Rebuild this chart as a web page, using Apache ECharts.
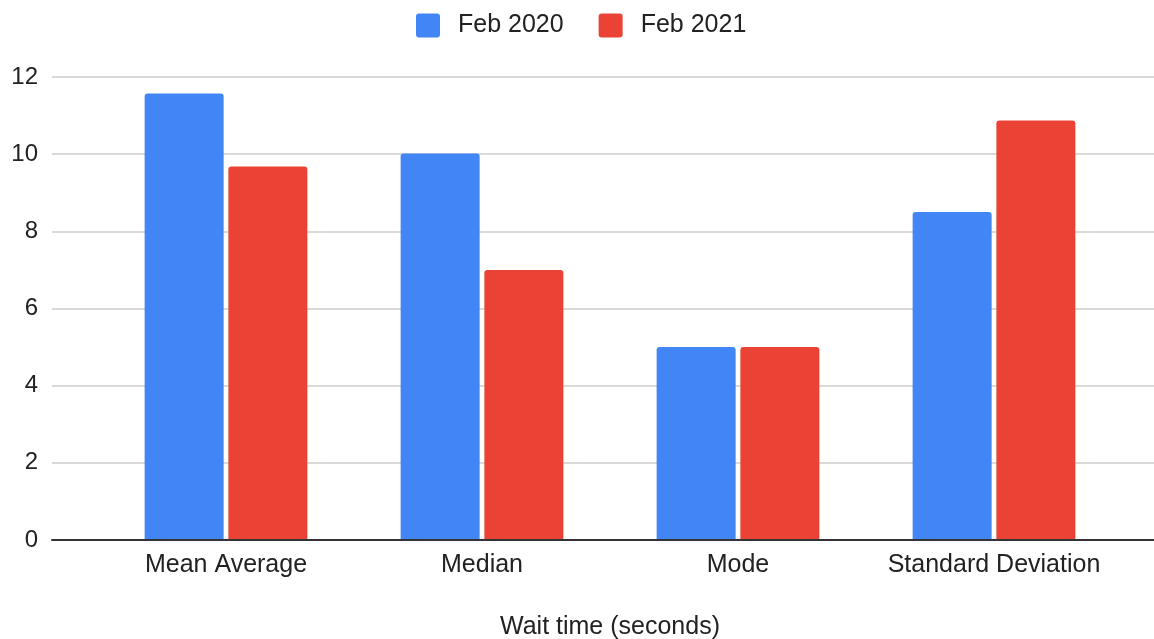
<!DOCTYPE html>
<html>
<head>
<meta charset="utf-8">
<title>Wait time</title>
<script src="https://cdn.jsdelivr.net/npm/echarts@6/dist/echarts.min.js"></script>
<style>
  html, body { margin: 0; padding: 0; background: #fff; }
  #chart { width: 1154px; height: 639px; }
</style>
</head>
<body>
<div id="chart"></div>
<script>
// data
var categories = ['Mean Average', 'Median', 'Mode', 'Standard Deviation'];
var feb2020 = [11.57, 10.02, 5.0, 8.5];
var feb2021 = [9.68, 7.0, 5.0, 10.87];
var seriesNames = ['Feb 2020', 'Feb 2021'];
var yTicks = { min: 0, max: 12, interval: 2 };

var textColor = '#222';
var font = 'Liberation Sans, Arial, sans-serif';

var chart = echarts.init(document.getElementById('chart'));

var option = {
  backgroundColor: '#fff',
  color: ['#4285F4', '#EA4335'],
  legend: {
    data: seriesNames,
    left: 416,
    top: 13,
    padding: 0,
    itemWidth: 24,
    itemHeight: 24,
    itemGap: 35,
    icon: 'path://M3,0 L21,0 Q24,0 24,3 L24,21 Q24,24 21,24 L3,24 Q0,24 0,21 L0,3 Q0,0 3,0 Z',
    textStyle: { fontSize: 25, color: textColor, fontFamily: font, padding: [0, 0, 0, 13] }
  },
  // grid 0: full width gridlines, y labels and base line
  // grid 1: where the bars sit
  grid: [
    { left: 52, right: 0, top: 77, bottom: 99, outerBoundsMode: 'none' },
    { left: 98, right: 32, top: 77, bottom: 99, outerBoundsMode: 'none' }
  ],
  xAxis: [
    {
      gridIndex: 0,
      type: 'category',
      data: [''],
      z: 10,
      axisLine: { show: true, lineStyle: { color: '#333', width: 2 } },
      axisTick: { show: false },
      axisLabel: { show: false },
      splitLine: { show: false }
    },
    {
      gridIndex: 1,
      type: 'category',
      data: categories,
      axisLine: { show: false },
      axisTick: { show: false },
      axisLabel: { interval: 0, fontSize: 25, color: textColor, fontFamily: font, margin: 13 },
      name: 'Wait time (seconds)',
      nameLocation: 'middle',
      nameGap: 75,
      nameTextStyle: { fontSize: 25, color: textColor, fontFamily: font }
    }
  ],
  yAxis: [
    {
      gridIndex: 0,
      type: 'value',
      min: yTicks.min,
      max: yTicks.max,
      interval: yTicks.interval,
      axisLine: { show: false },
      axisTick: { show: false },
      axisLabel: { fontSize: 24, color: textColor, fontFamily: font, margin: 14 },
      splitLine: { lineStyle: { color: '#ccc', width: 1.5 } }
    },
    {
      gridIndex: 1,
      type: 'value',
      min: yTicks.min,
      max: yTicks.max,
      interval: yTicks.interval,
      show: false,
      splitLine: { show: false }
    }
  ],
  series: [
    {
      name: seriesNames[0],
      type: 'bar',
      xAxisIndex: 1,
      yAxisIndex: 1,
      data: feb2020,
      barWidth: 79,
      barGap: '6%',
      itemStyle: { borderRadius: [3, 3, 0, 0] }
    },
    {
      name: seriesNames[1],
      type: 'bar',
      xAxisIndex: 1,
      yAxisIndex: 1,
      data: feb2021,
      barWidth: 79,
      barGap: '6%',
      itemStyle: { borderRadius: [3, 3, 0, 0] }
    }
  ]
};

chart.setOption(option);
</script>
</body>
</html>
